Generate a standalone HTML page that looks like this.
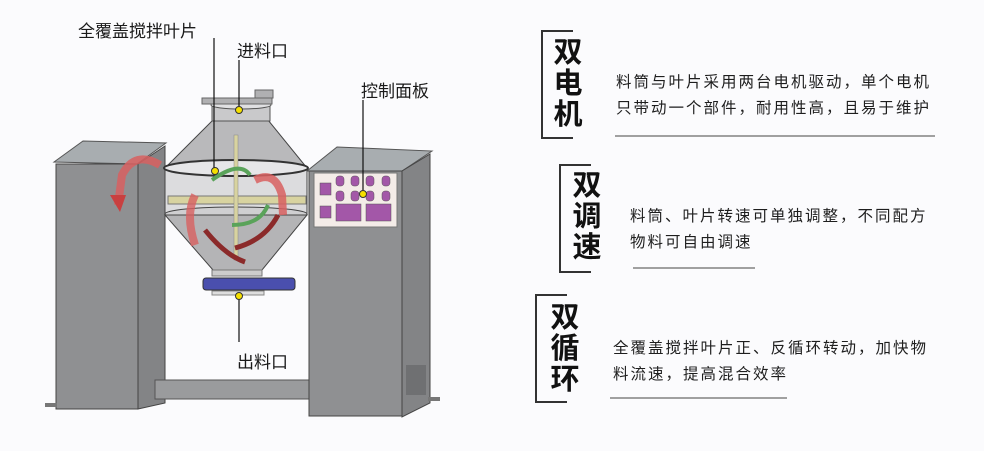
<!DOCTYPE html>
<html><head><meta charset="utf-8"><style>
html,body{margin:0;padding:0;background:#fbfbfd;}
body{width:984px;height:451px;position:relative;overflow:hidden;font-family:"Liberation Sans","Noto Sans CJK SC",sans-serif;color:#222;}
.t{position:absolute;white-space:nowrap;}
.lab{font-size:17px;color:#1a1a1a;}
.h{font-size:29px;font-weight:bold;line-height:31px;width:32px;text-align:center;color:#111;}
.p{font-size:15.5px;letter-spacing:2px;line-height:26px;color:#1e1e1e;}
</style></head><body>
<svg width="984" height="451" style="position:absolute;left:0;top:0">
<!-- left cabinet -->
<polygon points="54,162 83,141 166,143 137,164" fill="#a8adb0" stroke="#555" stroke-width="1"/>
<rect x="56" y="164" width="82" height="245" fill="#8f9092" stroke="#444"/>
<polygon points="138,164 165,146 165,403 138,409" fill="#838486" stroke="#444"/>
<rect x="45" y="403" width="12" height="4" fill="#777"/>
<!-- base bar -->
<rect x="155" y="380" width="157" height="19" fill="#9a9b9d" stroke="#555"/>
<!-- right cabinet -->
<polygon points="307,171 337,147 432,151 402,171" fill="#a8adb0" stroke="#555"/>
<rect x="309" y="171" width="93" height="245" fill="#8f9092" stroke="#444"/>
<polygon points="402,171 430,154 430,403 402,417" fill="#838486" stroke="#444"/>
<rect x="406" y="365" width="20" height="30" fill="#6f7072"/>
<rect x="428" y="397" width="12" height="4" fill="#777"/>
<!-- control panel -->
<rect x="314" y="173" width="83" height="54" fill="#f4ece8" stroke="#777"/>
<g fill="#a357a8" stroke="#555" stroke-width=".5">
<rect x="320" y="183" width="11" height="12"/><rect x="320" y="206" width="11" height="12"/>
<rect x="336" y="204" width="25" height="17"/><rect x="366" y="204" width="25" height="17"/>
<rect x="336" y="176" width="8" height="10" rx="3"/><rect x="351" y="176" width="8" height="10" rx="3"/><rect x="366" y="176" width="8" height="10" rx="3"/><rect x="382" y="176" width="8" height="10" rx="3"/>
<rect x="336" y="191" width="8" height="10" rx="3"/><rect x="351" y="191" width="8" height="10" rx="3"/><rect x="366" y="191" width="8" height="10" rx="3"/><rect x="382" y="191" width="8" height="10" rx="3"/>
</g>
<!-- vessel -->
<polygon points="213,120 268,120 307,168 165,168" fill="#b9b9bb" stroke="#444"/>
<rect x="165" y="168" width="142" height="47" fill="#dcdcde" stroke="#444"/>
<ellipse cx="236" cy="168" rx="72" ry="8" fill="#e6e6e8" stroke="#333" stroke-width="2"/>
<ellipse cx="236" cy="214" rx="71" ry="7" fill="#cfcfd1" stroke="#444"/>
<polygon points="165,215 307,215 262,270 213,270" fill="#b4b4b6" stroke="#444"/>
<rect x="212" y="105" width="58" height="16" fill="#c9c9cb" stroke="#555"/>
<ellipse cx="241" cy="105" rx="30" ry="4" fill="#e0e0e2" stroke="#555"/>
<rect x="202" y="98" width="70" height="6" fill="#b0b0b2" stroke="#666"/>
<rect x="255" y="90" width="18" height="8" fill="#b0b0b2" stroke="#666"/>
<!-- shaft -->
<rect x="168" y="196" width="138" height="8" fill="#d8d3a0" stroke="#777"/>
<rect x="234" y="135" width="4" height="125" fill="#d8d3a0" stroke="#888" stroke-width=".5"/>
<path d="M212 180 Q240 160 250 175" stroke="#5aa35a" stroke-width="4" fill="none"/>
<path d="M232 225 Q260 225 268 205" stroke="#5aa35a" stroke-width="4" fill="none"/>
<path d="M205 230 Q225 255 245 262" stroke="#8b2a2a" stroke-width="5" fill="none"/>
<path d="M235 248 Q265 240 278 215" stroke="#8b2a2a" stroke-width="5" fill="none"/>
<!-- red arrows -->
<path d="M160 165 Q135 150 122 175 L118 205" stroke="#d86060" stroke-width="8" fill="none" opacity=".85"/>
<polygon points="110,195 126,195 120,212" fill="#c94040"/>
<path d="M255 180 Q275 170 282 195 L283 215" stroke="#d86060" stroke-width="8" fill="none" opacity=".85"/>
<path d="M195 245 Q185 215 195 195" stroke="#d86060" stroke-width="8" fill="none" opacity=".8"/>
<!-- outlet -->
<rect x="212" y="270" width="50" height="6" fill="#ccc" stroke="#777"/>
<rect x="203" y="278" width="92" height="12" rx="3" fill="#4a4fae" stroke="#333"/>
<rect x="212" y="291" width="52" height="4" fill="#ddd" stroke="#888"/>
<!-- leaders -->
<g stroke="#111" stroke-width="1.2">
<line x1="214" y1="38" x2="214" y2="170"/>
<line x1="239" y1="60" x2="239" y2="110"/>
<line x1="363" y1="100" x2="363" y2="194"/>
<line x1="239" y1="296" x2="239" y2="342"/>
</g>
<g fill="#f5e000" stroke="#333" stroke-width="1">
<circle cx="215" cy="171" r="3.5"/><circle cx="239" cy="110" r="3.5"/><circle cx="363" cy="194" r="3.5"/><circle cx="239" cy="296" r="3.5"/>
</g>
<!-- brackets -->
<g stroke="#333" stroke-width="2" fill="none">
<polyline points="573,31 542,31 542,138 573,138"/>
<polyline points="591,165 560,165 560,272 591,272"/>
<polyline points="567,295 536,295 536,402 567,402"/>
</g>
<g stroke="#444" stroke-width="1">
<line x1="615" y1="136" x2="935" y2="136"/>
<line x1="633" y1="268" x2="755" y2="268"/>
<line x1="610" y1="398" x2="787" y2="398"/>
</g>
</svg>
<div class="t lab" style="left:78px;top:17px">全覆盖搅拌叶片</div>
<div class="t lab" style="left:237px;top:37px">进料口</div>
<div class="t lab" style="left:361px;top:77px">控制面板</div>
<div class="t lab" style="left:237px;top:348px">出料口</div>
<div class="t h" style="left:552px;top:38px">双<br>电<br>机</div>
<div class="t h" style="left:571px;top:171px">双<br>调<br>速</div>
<div class="t h" style="left:549px;top:303px">双<br>循<br>环</div>
<div class="t p" style="left:616px;top:70px">料筒与叶片采用两台电机驱动，单个电机<br>只带动一个部件，耐用性高，且易于维护</div>
<div class="t p" style="left:630px;top:204px">料筒、叶片转速可单独调整，不同配方<br>物料可自由调速</div>
<div class="t p" style="left:613px;top:336px">全覆盖搅拌叶片正、反循环转动，加快物<br>料流速，提高混合效率</div>
</body></html>
